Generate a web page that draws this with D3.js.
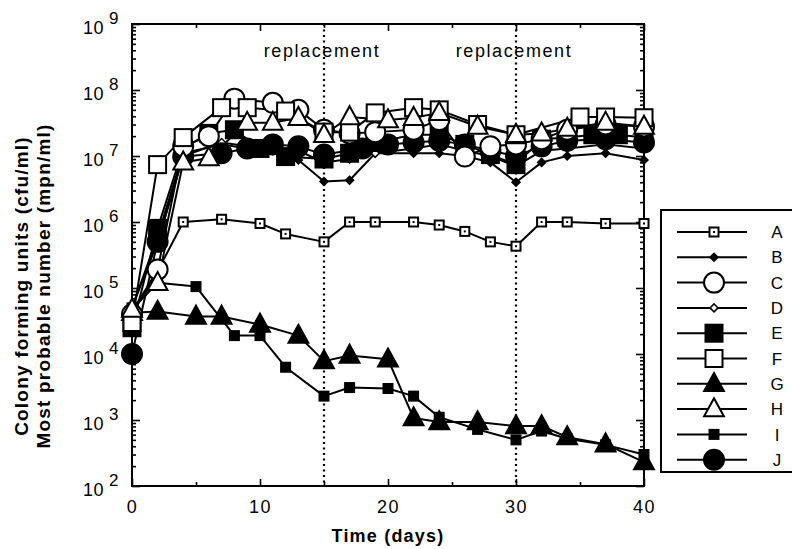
<!DOCTYPE html>
<html>
<head>
<meta charset="utf-8">
<script src="https://cdn.jsdelivr.net/npm/d3@7"></script>
<style>
  html, body { margin: 0; padding: 0; background: #fff; }
  svg { display: block; }
  text { font-family: "Liberation Sans", Arial, Helvetica, sans-serif; fill: #000; }
</style>
</head>
<body>
<svg id="chart" width="792" height="549"></svg>
<script>
// ---------------- DATA ----------------
const seriesNames = ["A","B","C","D","E","F","G","H","I","J"];

const daysA = [0,2,4,7,10,12,15,17,19,22,24,26,28,30,32,34,37,40];
const valsA = [4.5e4,1.8e5,1.0e6,1.1e6,9.5e5,6.6e5,5.0e5,1.0e6,1.0e6,1.0e6,9.0e5,7.2e5,5.0e5,4.3e5,1.0e6,1.0e6,9.5e5,9.5e5];

const daysB = [0,2,4,7,9,11,13,15,17,19,22,24,26,28,30,32,34,37,40];
const valsB = [5e4,6e5,1.1e7,1.5e7,1.3e7,1.2e7,8.7e6,4.1e6,4.3e6,1.1e7,1.1e7,1.1e7,1.0e7,8e6,4e6,8e6,1.0e7,1.1e7,8.7e6];

const daysC = [0,2,4,6,8,11,13,15,17,19,22,24,26,28,30,32,34,37,40];
const valsC = [4e4,1.9e5,1.4e7,2e7,7.4e7,6.4e7,5e7,2.5e7,2.2e7,2.3e7,2.5e7,3.5e7,9.8e6,1.4e7,1.5e7,1.8e7,2.5e7,3e7,2.8e7];

const daysD = [0,2,4,7,9,11,13,15,17,19,22,24,26,28,30,32,34,37,40];
const valsD = [5e4,5e5,1e7,1.6e7,1.4e7,1.3e7,1.2e7,8e6,9e6,1.1e7,1.3e7,1.5e7,1.2e7,1.0e7,7e6,1.2e7,1.3e7,1.5e7,1.3e7];

const daysE = [0,2,4,6,8,10,12,15,17,19,22,24,26,28,30,32,34,36,38,40];
const valsE = [2.5e4,8e5,1.3e7,2.2e7,2.5e7,1.3e7,9.8e6,9e6,1.1e7,1.6e7,2.1e7,2.1e7,1.5e7,1.05e7,7.4e6,1.8e7,1.9e7,2.1e7,2.1e7,1.9e7];

const daysF = [0,2,4,7,9,12,15,17,19,22,24,27,30,35,37,40];
const valsF = [3e4,7.4e6,1.9e7,5.4e7,5.4e7,4.8e7,2.3e7,2.3e7,4.5e7,5.4e7,5e7,3e7,2.1e7,3.9e7,3.9e7,3.8e7];

const daysG = [0,2,5,7,10,13,15,17,20,22,24,27,30,32,34,37,40];
const valsG = [4.2e4,4.4e4,3.7e4,3.7e4,2.8e4,1.9e4,7.8e3,9.5e3,8.3e3,1.07e3,9.3e2,9.3e2,8.1e2,8.1e2,5.5e2,4.3e2,2.3e2];

const daysH = [0,2,4,6,9,11,13,15,17,20,22,24,27,30,32,34,37,40];
const valsH = [4.7e4,1.2e5,8e6,9.3e6,3.2e7,3.2e7,3.8e7,2.1e7,3.9e7,3.5e7,3.8e7,4.5e7,2.8e7,2.1e7,2.2e7,2.6e7,3.2e7,2.8e7];

const daysI = [0,2,5,8,10,12,15,17,20,22,24,27,30,32,34,37,40];
const valsI = [5e4,1.2e5,1.05e5,1.9e4,1.9e4,6.3e3,2.3e3,3.1e3,3.0e3,2.3e3,1.1e3,7.2e2,5e2,6.8e2,5.2e2,4.2e2,3e2];

const daysJ = [0,2,4,7,9,11,13,15,18,20,22,24,26,28,30,32,34,37,40];
const valsJ = [1e4,5e5,9.8e6,1.1e7,1.3e7,1.5e7,1.4e7,1.05e7,1.3e7,1.5e7,1.6e7,1.7e7,1.5e7,1.2e7,1e7,1.4e7,1.7e7,1.8e7,1.6e7];

const replacementDays = [15, 30];
const replacementLabel = "replacement";
const xTickValues = [0,10,20,30,40];
const xMinorTicks = [5,15,25,35];
const yDecades = [2,3,4,5,6,7,8,9];
const xTitle = "Time (days)";
const yTitle1 = "Colony forming units (cfu/ml)";
const yTitle2 = "Most probable number (mpn/ml)";

// marker style per series
const markerStyle = {
  A: {shape:"square", size:9,  fill:"#fff", dot:true},
  B: {shape:"diamond", size:8, fill:"#000"},
  C: {shape:"circle", size:20, fill:"#fff"},
  D: {shape:"diamond", size:8, fill:"#fff"},
  E: {shape:"square", size:17, fill:"#000"},
  F: {shape:"square", size:17, fill:"#fff"},
  G: {shape:"triangle", size:18, fill:"#000"},
  H: {shape:"triangle", size:18, fill:"#fff"},
  I: {shape:"square", size:9,  fill:"#000"},
  J: {shape:"circle", size:20, fill:"#000"}
};

const seriesData = {
  A: {days: daysA, vals: valsA}, B: {days: daysB, vals: valsB},
  C: {days: daysC, vals: valsC}, D: {days: daysD, vals: valsD},
  E: {days: daysE, vals: valsE}, F: {days: daysF, vals: valsF},
  G: {days: daysG, vals: valsG}, H: {days: daysH, vals: valsH},
  I: {days: daysI, vals: valsI}, J: {days: daysJ, vals: valsJ}
};

// ---------------- LAYOUT ----------------
const svg = d3.select("#chart");
const L = 132, R = 644, T = 24, B = 486;
const x = d3.scaleLinear().domain([0,40]).range([L,R]);
const y = d3.scaleLog().domain([1e2,1e9]).range([B,T]);

const yMinor = [];
yDecades.slice(0,-1).forEach(d => { for (let k=2;k<=9;k++) yMinor.push(k*Math.pow(10,d)); });
const yMajor = yDecades.map(d => Math.pow(10,d));

// Replacement dotted lines
replacementDays.forEach(d => {
  svg.append("line")
    .attr("x1", x(d)).attr("x2", x(d)).attr("y1", T).attr("y2", B)
    .attr("stroke", "#000").attr("stroke-width", 2.2)
    .attr("stroke-dasharray", "2,3.5");
  svg.append("text")
    .attr("x", x(d) - 2).attr("y", 57)
    .attr("text-anchor","middle")
    .attr("font-size", 18).attr("letter-spacing", 1.6)
    .text(replacementLabel);
});

function styleAxis(g){ g.select(".domain").remove(); g.selectAll("line").attr("stroke","#000").attr("stroke-width",1.6); }

svg.append("g").attr("transform",`translate(${L},0)`)
  .call(d3.axisLeft(y).tickValues(yMinor).tickSize(-4).tickFormat(() => "")).call(styleAxis);
svg.append("g").attr("transform",`translate(${R},0)`)
  .call(d3.axisRight(y).tickValues(yMinor).tickSize(-4).tickFormat(() => "")).call(styleAxis);
svg.append("g").attr("transform",`translate(${R},0)`)
  .call(d3.axisRight(y).tickValues(yMajor).tickSize(-8).tickFormat(() => "")).call(styleAxis);

const yAx = svg.append("g").attr("transform",`translate(${L},0)`)
  .call(d3.axisLeft(y).tickValues(yMajor).tickSize(-8).tickFormat(() => "")).call(styleAxis);
yAx.selectAll(".tick").each(function(v){
  const g = d3.select(this);
  g.select("text").remove();
  g.append("text").attr("x",-28).attr("y",3).attr("dy","0.35em")
    .attr("text-anchor","end").attr("font-size",18).attr("letter-spacing",0.5).text("10");
  g.append("text").attr("x",-23).attr("y",-6).attr("dy","0.35em")
    .attr("text-anchor","start").attr("font-size",17).text(Math.round(Math.log10(v)));
});

const xAx = svg.append("g").attr("transform",`translate(0,${B})`)
  .call(d3.axisBottom(x).tickValues(xTickValues).tickSize(-7).tickPadding(14).tickFormat(d3.format("d"))).call(styleAxis);
xAx.selectAll("text").attr("font-size",18).attr("letter-spacing",1.5).attr("fill","#000");
svg.append("g").attr("transform",`translate(0,${B})`)
  .call(d3.axisBottom(x).tickValues(xMinorTicks).tickSize(-4).tickFormat(() => "")).call(styleAxis);
svg.append("g").attr("transform",`translate(0,${T})`)
  .call(d3.axisTop(x).tickValues(xTickValues).tickSize(-7).tickFormat(() => "")).call(styleAxis);
svg.append("g").attr("transform",`translate(0,${T})`)
  .call(d3.axisTop(x).tickValues(xMinorTicks).tickSize(-4).tickFormat(() => "")).call(styleAxis);

svg.append("rect").attr("x",L).attr("y",T).attr("width",R-L).attr("height",B-T)
  .attr("fill","none").attr("stroke","#000").attr("stroke-width",2);

// titles
svg.append("text").attr("x", 388).attr("y", 542).attr("text-anchor","middle")
  .attr("font-size",18).attr("font-weight","bold").attr("letter-spacing",1.2).text(xTitle);
svg.append("text").attr("transform","translate(28,286) rotate(-90)").attr("text-anchor","middle")
  .attr("font-size",19).attr("font-weight","bold").attr("letter-spacing",1.2).text(yTitle1);
svg.append("text").attr("transform","translate(50,286) rotate(-90)").attr("text-anchor","middle")
  .attr("font-size",19).attr("font-weight","bold").attr("letter-spacing",1.2).text(yTitle2);

function drawMarker(g, name, cx, cy){
  const s = markerStyle[name];
  const sw = 2;
  if (s.shape === "square") {
    g.append("rect").attr("x",cx-s.size/2).attr("y",cy-s.size/2).attr("width",s.size).attr("height",s.size)
      .attr("fill",s.fill).attr("stroke","#000").attr("stroke-width",sw);
    if (s.dot) g.append("rect").attr("x",cx-1).attr("y",cy-1).attr("width",2).attr("height",2).attr("fill","#000");
  } else if (s.shape === "circle") {
    g.append("circle").attr("cx",cx).attr("cy",cy).attr("r",s.size/2)
      .attr("fill",s.fill).attr("stroke","#000").attr("stroke-width",sw);
  } else if (s.shape === "diamond") {
    const h = s.size/2;
    g.append("path").attr("d",`M${cx},${cy-h}L${cx+h},${cy}L${cx},${cy+h}L${cx-h},${cy}Z`)
      .attr("fill",s.fill).attr("stroke","#000").attr("stroke-width",1.5);
  } else if (s.shape === "triangle") {
    const h = s.size;
    g.append("path").attr("d",`M${cx},${cy-h*0.6}L${cx+h*0.55},${cy+h*0.4}L${cx-h*0.55},${cy+h*0.4}Z`)
      .attr("fill",s.fill).attr("stroke","#000").attr("stroke-width",sw).attr("stroke-linejoin","miter");
  }
}

const line = d3.line().x(d => x(d[0])).y(d => y(d[1]));
const plot = svg.append("g");
const drawOrder = ["A","G","I","B","D","J","E","C","F","H"];
drawOrder.forEach(name => {
  const sd = seriesData[name];
  const pts = sd.days.map((d,i) => [d, sd.vals[i]]);
  plot.append("path").datum(pts).attr("d", line)
    .attr("fill","none").attr("stroke","#000").attr("stroke-width",2).attr("stroke-linejoin","round");
});
drawOrder.forEach(name => {
  const sd = seriesData[name];
  const g = plot.append("g");
  sd.days.forEach((d,i) => drawMarker(g, name, x(d), y(sd.vals[i])));
});

// legend
const LX = 661, LY = 210;
svg.append("rect").attr("x",LX).attr("y",LY).attr("width",150).attr("height",262)
  .attr("fill","#fff").attr("stroke","#000").attr("stroke-width",2);
seriesNames.forEach((name,i) => {
  const ry = 232 + i*25.3;
  svg.append("line").attr("x1",677).attr("x2",747).attr("y1",ry).attr("y2",ry)
    .attr("stroke","#000").attr("stroke-width",2);
  drawMarker(svg.append("g"), name, 714, ry);
  svg.append("text").attr("x",777).attr("y",ry).attr("dy","0.36em").attr("text-anchor","middle")
    .attr("font-size",17).text(name);
});
</script>
</body>
</html>
